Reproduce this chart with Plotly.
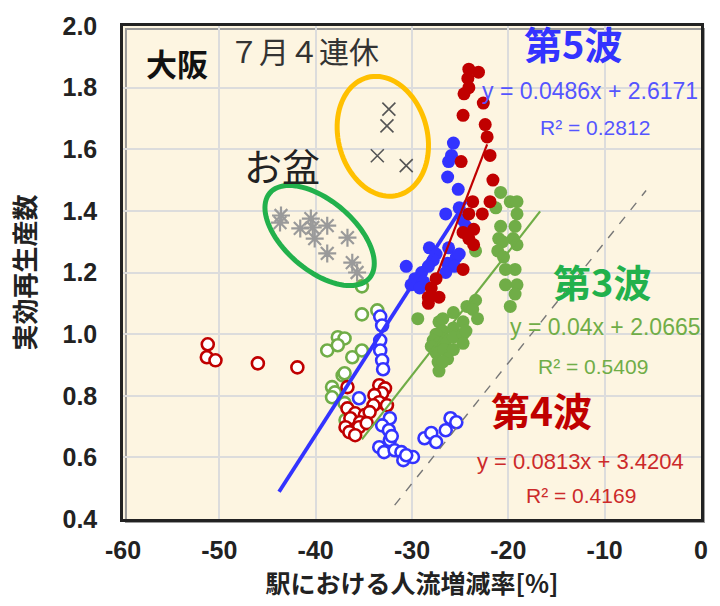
import math
import plotly.graph_objects as go

# ---------------- data ----------------
x_ticks = [-60, -50, -40, -30, -20, -10, 0]
x_tick_labels = ["-60", "-50", "-40", "-30", "-20", "-10", "0"]
y_ticks = [0.4, 0.6, 0.8, 1.0, 1.2, 1.4, 1.6, 1.8, 2.0]
y_tick_labels = ["0.4", "0.6", "0.8", "1.0", "1.2", "1.4", "1.6", "1.8", "2.0"]

# wave 5 (blue)
w5_filled_x = [-25.7, -25.9, -26.2, -26.3, -25.2, -26.5, -25.1, -24.7, -24.4, -28.2, -27.5, -26.2, -25.4,
               -27.8, -26.3, -25.1, -25.6, -26.5, -30.6, -29.0, -29.7, -28.8, -30.1, -29.2, -28.3]
w5_filled_y = [1.62, 1.58, 1.56, 1.51, 1.47, 1.39, 1.41, 1.37, 1.35, 1.28, 1.26, 1.28, 1.25,
               1.24, 1.23, 1.26, 1.22, 1.20, 1.22, 1.20, 1.18, 1.17, 1.16, 1.15, 1.22]
w5_open_x = [-33.3, -33.1, -33.3, -33.3, -33.1, -33.0, -35.5, -32.3, -33.1, -32.4, -32.3, -32.1, -33.4,
             -32.9, -31.8, -31.1, -30.9, -29.9, -30.6, -28.7, -28.0, -27.5, -26.5, -26.0, -25.4]
w5_open_y = [1.057, 1.028, 0.98, 0.947, 0.915, 0.886, 0.792, 0.727, 0.704, 0.688, 0.656, 0.669, 0.633,
             0.617, 0.623, 0.617, 0.591, 0.601, 0.607, 0.662, 0.679, 0.65, 0.688, 0.727, 0.714]

# wave 4 (red)
w4_filled_x = [-24.1, -23.1, -24.2, -24.1, -24.6, -22.6, -24.7, -22.4, -22.2, -24.9, -21.9, -21.6, -23.7,
               -21.9, -24.1, -22.7, -23.6, -24.7, -24.1, -23.6, -24.7, -27.5, -28.0, -28.3, -27.2, -28.3]
w4_filled_y = [1.86, 1.85, 1.83, 1.80, 1.78, 1.75, 1.71, 1.68, 1.64, 1.56, 1.58, 1.50, 1.43,
               1.43, 1.39, 1.39, 1.34, 1.33, 1.31, 1.29, 1.21, 1.18, 1.15, 1.12, 1.12, 1.10]
w4_open_x = [-51.2, -51.3, -50.4, -46.0, -41.9, -36.7, -33.4, -32.8, -33.1, -33.9, -33.4, -32.6, -34.0,
             -36.7, -35.9, -34.9, -34.4, -36.4, -35.4, -36.9, -36.0, -35.5, -36.5, -35.9, -34.7]
w4_open_y = [0.967, 0.925, 0.915, 0.905, 0.892, 0.828, 0.834, 0.824, 0.808, 0.802, 0.779, 0.769, 0.769,
             0.759, 0.743, 0.737, 0.747, 0.727, 0.714, 0.698, 0.688, 0.698, 0.682, 0.672, 0.711]

# wave 3 (green)
w3_filled_x = [-20.8, -19.8, -19.1, -21.3, -19.1, -19.3, -20.8, -21.0, -19.5, -20.6, -19.1, -21.1, -20.5,
               -19.3, -20.3, -19.1, -20.3, -19.3, -19.8, -23.4,
               -29.4, -27.2, -26.8, -25.7, -24.3, -23.4, -23.7, -23.2, -24.7, -25.7, -26.8, -27.5, -27.8,
               -27.2, -26.5, -25.7, -24.7, -28.0, -27.5, -26.7, -25.7, -27.3, -27.2, -26.3, -26.8, -24.7, -24.4]
w3_filled_y = [1.46, 1.43, 1.43, 1.41, 1.39, 1.35, 1.35, 1.31, 1.31, 1.30, 1.29, 1.27, 1.25,
               1.21, 1.21, 1.16, 1.16, 1.13, 1.09, 1.27,
               1.05, 1.04, 1.05, 1.07, 1.09, 1.11, 1.08, 1.05, 1.04, 1.02, 1.01, 1.00, 0.98,
               0.97, 0.98, 0.99, 1.00, 0.96, 0.94, 0.95, 0.95, 0.91, 0.88, 0.92, 0.91, 0.97, 1.01]
w3_open_x = [-35.2, -35.2, -33.6, -37.7, -37.0, -38.8, -37.7, -36.2, -35.2, -37.2, -37.0, -38.3, -38.0,
             -38.3, -37.0, -36.9]
w3_open_y = [1.155, 1.064, 1.077, 0.99, 0.986, 0.947, 0.964, 0.925, 0.947, 0.866, 0.873, 0.828, 0.811,
             0.795, 0.776, 0.721]

# holidays
renkyu_x = [-32.4, -32.6, -33.6, -30.6]
renkyu_y = [1.73, 1.676, 1.579, 1.547]
obon_x = [-43.6, -43.7, -41.6, -40.5, -40.3, -40.1, -38.8, -38.8, -36.7, -36.2, -35.7]
obon_y = [1.385, 1.362, 1.343, 1.375, 1.346, 1.31, 1.352, 1.262, 1.313, 1.232, 1.2]

# regression lines (slope, intercept, x range)
fit_names = ["第5波", "第4波", "第3波"]
fit_slope = [0.0486, 0.0813, 0.04]
fit_intercept = [2.6171, 3.4204, 2.0665]
fit_x_range = [[-43.8, -24.4], [-28.2, -22.2], [-35.2, -16.7]]
fit_r2 = [0.2812, 0.4169, 0.5409]

# dashed reference line
ref_x = [-31.8, -5.7]
ref_y = [0.445, 1.466]

# ---------------- style ----------------
BLUE = "#3333FF"
RED = "#C00000"
GREEN = "#70AD47"
FONT = "Liberation Sans, Noto Sans CJK JP, sans-serif"
JFONT = "Noto Sans CJK JP, sans-serif"

W, H = 720, 606
ML, MR, MT, MB = 123, 12, 25, 87
PW, PH = W - ML - MR, H - MT - MB
X0, X1, Y0, Y1 = -60, 0, 0.4, 2.0
PPX = PW / (X1 - X0)
PPY = PH / (Y1 - Y0)

fig = go.Figure()

def open_trace(x, y, color):
    fig.add_trace(go.Scatter(x=x, y=y, mode="markers",
                             marker=dict(size=12, color="white", line=dict(color=color, width=2.6)),
                             showlegend=False, hoverinfo="skip"))

def filled_trace(x, y, color):
    fig.add_trace(go.Scatter(x=x, y=y, mode="markers",
                             marker=dict(size=13, color=color, line=dict(width=0)),
                             showlegend=False, hoverinfo="skip"))

open_trace(w3_open_x, w3_open_y, GREEN)
open_trace(w4_open_x, w4_open_y, RED)
open_trace(w5_open_x, w5_open_y, BLUE)
filled_trace(w3_filled_x, w3_filled_y, GREEN)
filled_trace(w5_filled_x, w5_filled_y, BLUE)
filled_trace(w4_filled_x, w4_filled_y, RED)

fig.add_trace(go.Scatter(x=renkyu_x, y=renkyu_y, mode="markers",
                         marker=dict(symbol="x-thin-open", size=13, color="#555555",
                                     line=dict(color="#555555", width=1.6)),
                         showlegend=False, hoverinfo="skip"))
fig.add_trace(go.Scatter(x=obon_x, y=obon_y, mode="markers",
                         marker=dict(symbol="asterisk-open", size=15, color="#9a9a9a",
                                     line=dict(color="#9a9a9a", width=2.2)),
                         showlegend=False, hoverinfo="skip"))

# regression lines
line_styles = [(BLUE, 3.8), (RED, 2.2), (GREEN, 2.2)]
for (m, b, xr, (c, w)) in zip(fit_slope, fit_intercept, fit_x_range, line_styles):
    fig.add_trace(go.Scatter(x=xr, y=[m * v + b for v in xr], mode="lines",
                             line=dict(color=c, width=w), showlegend=False, hoverinfo="skip"))

fig.add_trace(go.Scatter(x=ref_x, y=ref_y, mode="lines",
                         line=dict(color="#777777", width=1.4, dash="dash"),
                         showlegend=False, hoverinfo="skip"))

# ellipses (centre in data units, semi-axes in pixels, angle in screen degrees)
def ellipse_path(cx, cy, a, b, ang, n=90):
    th = math.radians(ang)
    pts = []
    for i in range(n):
        t = 2 * math.pi * i / n
        dx = a * math.cos(t) * math.cos(th) - b * math.sin(t) * math.sin(th)
        dy = a * math.cos(t) * math.sin(th) + b * math.sin(t) * math.cos(th)
        pts.append((cx + dx / PPX, cy - dy / PPY))
    return "M " + " L ".join(f"{px:.4f},{py:.4f}" for px, py in pts) + " Z"

fig.add_shape(type="path", xref="x", yref="y",
              path=ellipse_path(-33.03, 1.642, 61, 45, 75),
              line=dict(color="#FFC000", width=5))
fig.add_shape(type="path", xref="x", yref="y",
              path=ellipse_path(-39.59, 1.32, 66, 35, 40),
              line=dict(color="#22B14C", width=5))

# frame shadow
fig.add_shape(type="rect", xref="paper", yref="paper",
              x0=3 / PW, x1=1 + 3 / PW, y0=-3 / PH, y1=1 - 3 / PH,
              line=dict(color="#9a9a9a", width=2), layer="below")

def ann(text, x, y, size, color, bold=False, xanchor="center", family=JFONT):
    fig.add_annotation(x=x, y=y, xref="x", yref="y", text=f"<b>{text}</b>" if bold else text,
                       showarrow=False, xanchor=xanchor, yanchor="middle",
                       font=dict(family=family, size=size, color=color))

ann("大阪", -54.36, 1.883, 31, "#111111", bold=True)
ann("７月４連休", -41.23, 1.922, 30, "#333333")
ann("お盆", -43.49, 1.55, 38, "#222222")

ann("第5波", -13.33, 1.945, 38, BLUE, bold=True)
ann(f"y = {fit_slope[0]}x + {fit_intercept[0]}", -22.9, 1.789, 23, "#5555FF", xanchor="left", family=FONT)
ann(f"R² = {fit_r2[0]}", -11.0, 1.67, 21, "#5555FF", family=FONT)

ann("第3波", -10.3, 1.175, 38, "#22B14C", bold=True)
ann(f"y = {fit_slope[2]}x + {fit_intercept[2]}", -9.9, 1.022, 23, GREEN, family=FONT)
ann(f"R² = {fit_r2[2]}", -11.2, 0.896, 21, GREEN, family=FONT)

ann("第4波", -16.6, 0.758, 39, RED, bold=True)
ann(f"y = {fit_slope[1]}x + {fit_intercept[1]}", -12.51, 0.588, 22, "#CC2A2A", family=FONT)
ann(f"R² = {fit_r2[1]}", -12.41, 0.475, 21, "#CC2A2A", family=FONT)

axis_common = dict(showgrid=True, gridcolor="#DCDCDC", gridwidth=1.8, zeroline=False,
                   showline=True, linecolor="#222222", linewidth=2.5, mirror=True,
                   ticks="outside", tickcolor="rgba(0,0,0,0)",
                   tickfont=dict(family=FONT, size=25, color="#222222"))

fig.update_layout(
    width=W, height=H,
    margin=dict(l=ML, r=MR, t=MT, b=MB),
    paper_bgcolor="white", plot_bgcolor="#FDF5E1",
    xaxis=dict(range=[X0, X1], tickvals=x_ticks, ticktext=[f"<b>{t}</b>" for t in x_tick_labels],
               ticklen=7,
               title=dict(text="<b>駅における人流増減率[%]</b>", standoff=6,
                          font=dict(family=JFONT, size=25, color="#222222")),
               **axis_common),
    yaxis=dict(range=[Y0, Y1], tickvals=y_ticks, ticktext=[f"<b>{t}</b>" for t in y_tick_labels],
               ticklen=18,
               title=dict(text="<b>実効再生産数</b>", standoff=20,
                          font=dict(family=JFONT, size=26, color="#222222")),
               **axis_common),
)

fig.write_html("out.html", config={"displayModeBar": False},
               post_script="document.body.style.margin='0px';")
